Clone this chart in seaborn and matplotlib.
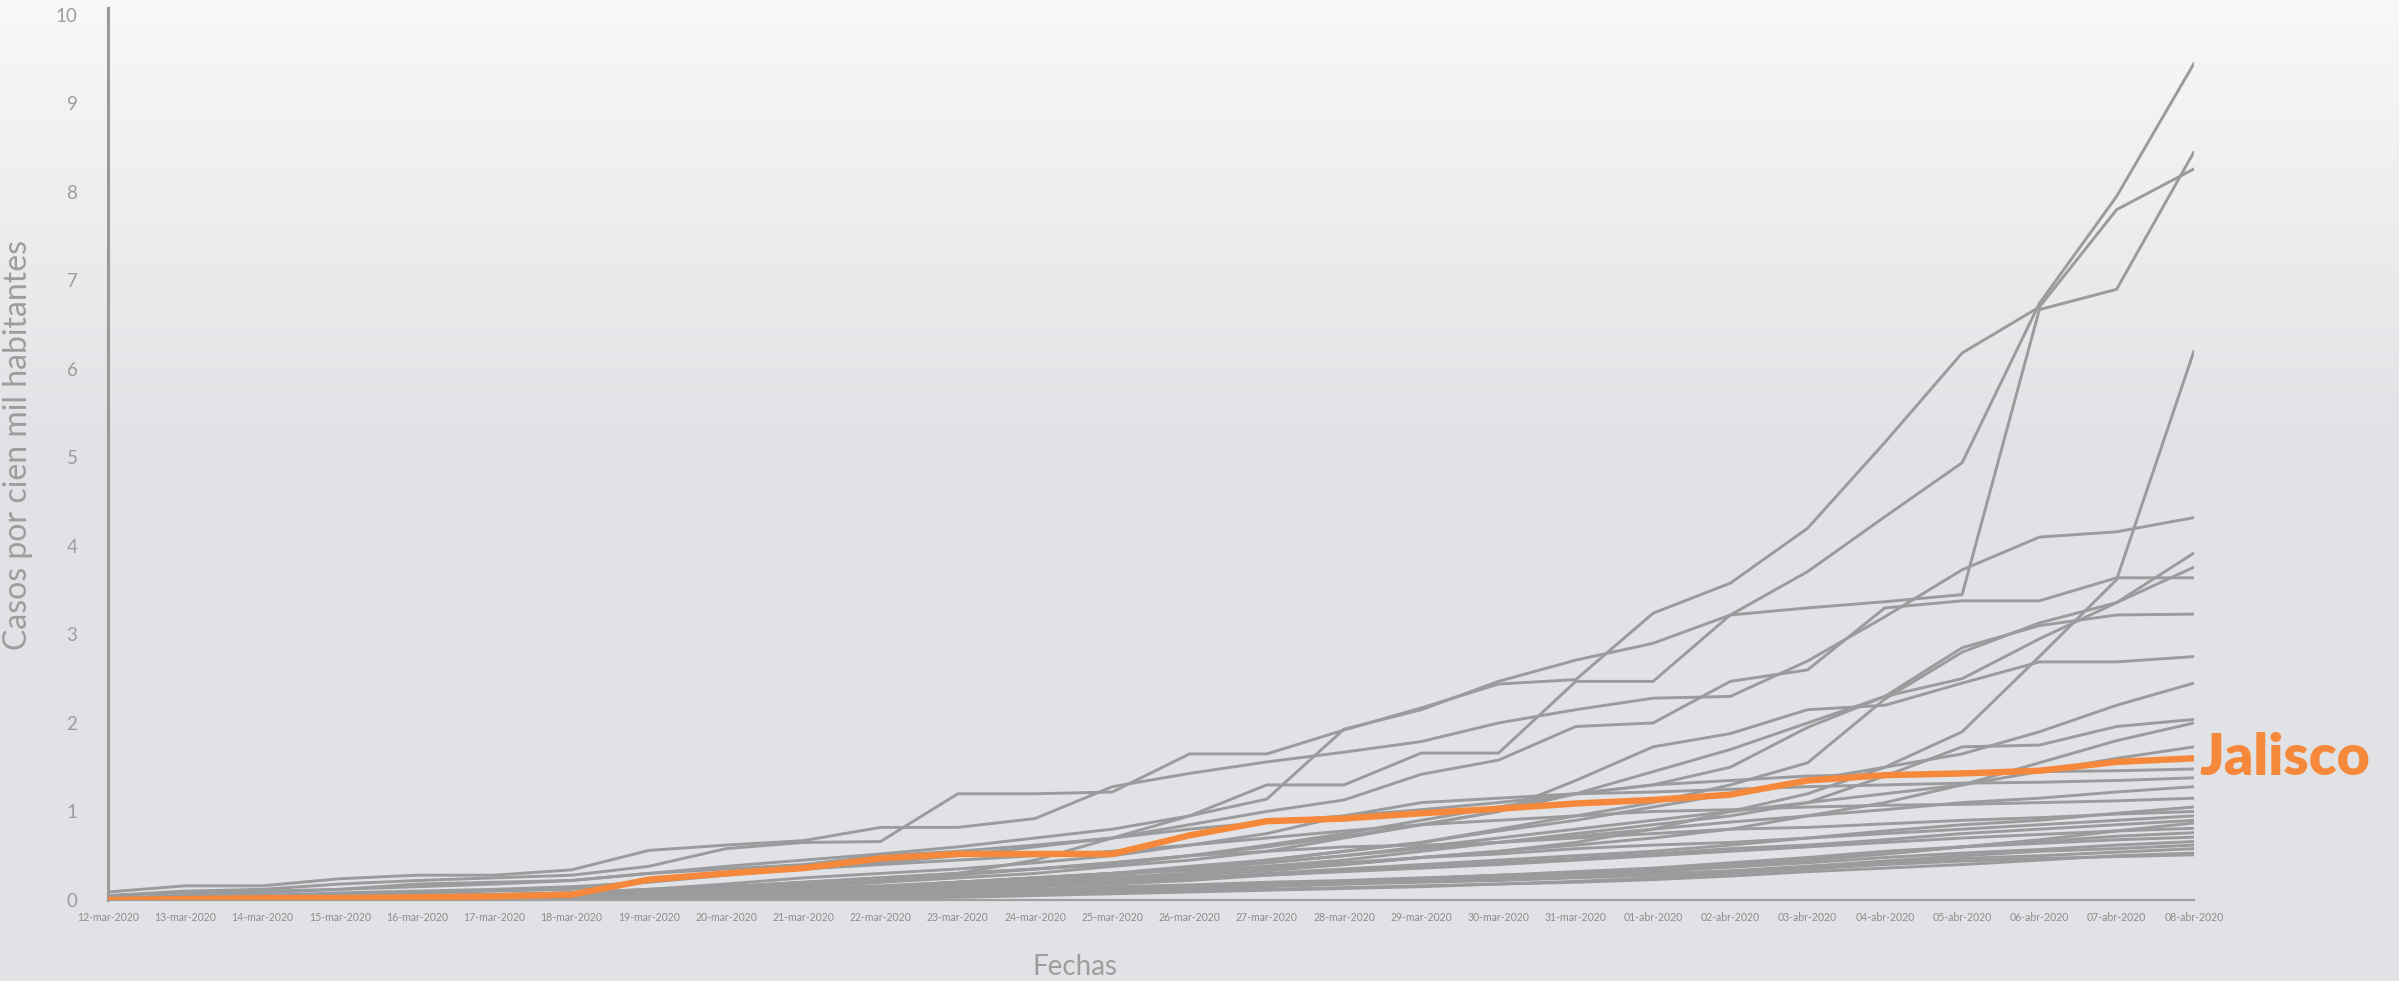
import numpy as np
import pandas as pd
import seaborn as sns
import matplotlib.pyplot as plt
from matplotlib.colors import LinearSegmentedColormap

# -------------------------------
# Data (casos por cien mil habitantes)
# -------------------------------
fechas = [f"{d}-mar-2020" for d in range(12, 32)] + [f"{d:02d}-abr-2020" for d in range(1, 9)]

jalisco = [0.0, 0.01, 0.02, 0.02, 0.03, 0.04, 0.06, 0.23, 0.30, 0.36, 0.47, 0.52, 0.52, 0.52,
           0.73, 0.89, 0.92, 0.98, 1.03, 1.09, 1.13, 1.19, 1.35, 1.41, 1.43, 1.46, 1.56, 1.60]

otros = {
    "e01": [0.05, 0.08, 0.10, 0.12, 0.15, 0.18, 0.22, 0.30, 0.38, 0.45, 0.52, 0.60, 0.70, 0.80,
            0.95, 1.14, 1.93, 2.15, 2.47, 2.71, 2.90, 3.22, 3.71, 4.33, 4.94, 6.74, 7.95, 9.45],
    "e02": [0.05, 0.10, 0.12, 0.18, 0.22, 0.25, 0.28, 0.38, 0.58, 0.65, 0.66, 1.20, 1.20, 1.22,
            1.65, 1.65, 1.92, 2.17, 2.44, 2.49, 3.24, 3.58, 4.20, 5.17, 6.18, 6.70, 7.80, 8.26],
    "e03": [0.0, 0.0, 0.0, 0.0, 0.02, 0.03, 0.05, 0.08, 0.12, 0.15, 0.20, 0.30, 0.45, 0.70,
            0.95, 1.30, 1.30, 1.66, 1.66, 2.47, 2.47, 3.22, 3.30, 3.37, 3.45, 6.67, 6.90, 8.45],
    "e04": [0.09, 0.16, 0.16, 0.24, 0.28, 0.28, 0.34, 0.56, 0.62, 0.67, 0.82, 0.82, 0.92, 1.28,
            1.43, 1.56, 1.67, 1.79, 2.00, 2.15, 2.28, 2.30, 2.70, 3.20, 3.73, 4.10, 4.16, 4.32],
    "e05": [0.0, 0.0, 0.0, 0.02, 0.03, 0.05, 0.06, 0.08, 0.10, 0.12, 0.15, 0.18, 0.20, 0.25,
            0.30, 0.35, 0.40, 0.48, 0.55, 0.65, 0.80, 1.00, 1.20, 1.50, 1.90, 2.75, 3.62, 6.20],
    "e06": [0.0, 0.0, 0.02, 0.03, 0.05, 0.06, 0.08, 0.12, 0.15, 0.20, 0.25, 0.30, 0.35, 0.42,
            0.50, 0.62, 0.75, 0.90, 1.05, 1.20, 1.30, 1.50, 1.95, 2.30, 2.50, 2.95, 3.36, 3.92],
    "e07": [0.0, 0.0, 0.0, 0.02, 0.03, 0.04, 0.05, 0.08, 0.10, 0.12, 0.15, 0.20, 0.25, 0.30,
            0.35, 0.45, 0.55, 0.65, 0.80, 0.95, 1.10, 1.30, 1.55, 2.27, 2.80, 3.13, 3.36, 3.76],
    "e08": [0.02, 0.04, 0.05, 0.08, 0.10, 0.12, 0.15, 0.20, 0.28, 0.35, 0.42, 0.50, 0.60, 0.70,
            0.85, 1.00, 1.13, 1.42, 1.58, 1.96, 2.00, 2.47, 2.60, 3.30, 3.38, 3.38, 3.64, 3.64],
    "e09": [0.0, 0.0, 0.02, 0.03, 0.05, 0.06, 0.08, 0.10, 0.12, 0.15, 0.20, 0.25, 0.30, 0.38,
            0.45, 0.55, 0.70, 0.85, 1.00, 1.20, 1.45, 1.70, 2.00, 2.30, 2.85, 3.10, 3.22, 3.23],
    "e10": [0.0, 0.0, 0.0, 0.02, 0.03, 0.05, 0.07, 0.10, 0.13, 0.17, 0.22, 0.28, 0.35, 0.42,
            0.50, 0.60, 0.72, 0.85, 1.00, 1.35, 1.73, 1.88, 2.15, 2.20, 2.45, 2.69, 2.69, 2.75],
    "e11": [0.0, 0.0, 0.0, 0.0, 0.02, 0.03, 0.05, 0.08, 0.10, 0.12, 0.15, 0.20, 0.25, 0.30,
            0.38, 0.45, 0.55, 0.65, 0.78, 0.90, 1.05, 1.20, 1.35, 1.50, 1.65, 1.90, 2.20, 2.45],
    "e12": [0.0, 0.0, 0.0, 0.02, 0.03, 0.04, 0.05, 0.07, 0.10, 0.12, 0.15, 0.18, 0.22, 0.28,
            0.35, 0.42, 0.50, 0.60, 0.70, 0.80, 0.90, 1.00, 1.10, 1.40, 1.73, 1.75, 1.96, 2.04],
    "e13": [0.0, 0.0, 0.0, 0.0, 0.0, 0.02, 0.03, 0.05, 0.07, 0.09, 0.12, 0.15, 0.18, 0.22,
            0.28, 0.33, 0.40, 0.48, 0.55, 0.62, 0.70, 0.80, 0.95, 1.10, 1.30, 1.55, 1.80, 2.00],
    "e14": [0.0, 0.0, 0.0, 0.0, 0.02, 0.03, 0.04, 0.05, 0.07, 0.10, 0.12, 0.15, 0.20, 0.25,
            0.30, 0.38, 0.45, 0.55, 0.65, 0.75, 0.85, 0.95, 1.10, 1.20, 1.30, 1.45, 1.60, 1.73],
    "e15": [0.02, 0.05, 0.08, 0.12, 0.18, 0.20, 0.22, 0.30, 0.35, 0.40, 0.50, 0.55, 0.62, 0.70,
            0.80, 0.88, 0.95, 1.02, 1.10, 1.20, 1.30, 1.35, 1.40, 1.42, 1.44, 1.45, 1.46, 1.48],
    "e16": [0.0, 0.0, 0.02, 0.03, 0.05, 0.06, 0.08, 0.12, 0.18, 0.25, 0.30, 0.35, 0.42, 0.50,
            0.62, 0.75, 0.95, 1.10, 1.15, 1.20, 1.22, 1.25, 1.28, 1.30, 1.32, 1.33, 1.35, 1.38],
    "e17": [0.0, 0.0, 0.0, 0.02, 0.03, 0.05, 0.06, 0.08, 0.10, 0.13, 0.16, 0.20, 0.24, 0.30,
            0.35, 0.42, 0.50, 0.58, 0.65, 0.72, 0.80, 0.88, 0.95, 1.02, 1.10, 1.15, 1.22, 1.28],
    "e18": [0.02, 0.03, 0.05, 0.06, 0.08, 0.10, 0.12, 0.22, 0.30, 0.35, 0.40, 0.45, 0.50, 0.55,
            0.62, 0.70, 0.78, 0.85, 0.90, 0.95, 1.00, 1.02, 1.05, 1.07, 1.08, 1.10, 1.12, 1.15],
    "e19": [0.0, 0.0, 0.0, 0.0, 0.0, 0.02, 0.03, 0.05, 0.08, 0.10, 0.12, 0.15, 0.18, 0.20,
            0.25, 0.30, 0.35, 0.40, 0.45, 0.50, 0.55, 0.62, 0.70, 0.78, 0.85, 0.90, 0.98, 1.05],
    "e20": [0.0, 0.0, 0.0, 0.0, 0.02, 0.02, 0.03, 0.05, 0.08, 0.10, 0.15, 0.20, 0.25, 0.30,
            0.33, 0.38, 0.42, 0.48, 0.52, 0.58, 0.62, 0.65, 0.70, 0.75, 0.80, 0.85, 0.90, 0.95],
    "e21": [0.0, 0.0, 0.0, 0.0, 0.0, 0.0, 0.02, 0.03, 0.05, 0.07, 0.10, 0.12, 0.15, 0.18,
            0.22, 0.28, 0.33, 0.38, 0.42, 0.47, 0.52, 0.58, 0.62, 0.68, 0.75, 0.80, 0.85, 0.90],
    "e22": [0.0, 0.0, 0.0, 0.0, 0.0, 0.0, 0.0, 0.02, 0.03, 0.04, 0.05, 0.06, 0.08, 0.10,
            0.12, 0.15, 0.18, 0.22, 0.26, 0.30, 0.35, 0.40, 0.45, 0.52, 0.60, 0.68, 0.78, 0.87],
    "e23": [0.0, 0.0, 0.0, 0.0, 0.0, 0.02, 0.03, 0.05, 0.07, 0.09, 0.12, 0.15, 0.18, 0.20,
            0.24, 0.28, 0.32, 0.36, 0.40, 0.45, 0.50, 0.55, 0.60, 0.65, 0.70, 0.74, 0.78, 0.81],
    "e24": [0.0, 0.0, 0.0, 0.0, 0.0, 0.0, 0.0, 0.0, 0.02, 0.03, 0.05, 0.07, 0.10, 0.12,
            0.15, 0.18, 0.20, 0.22, 0.25, 0.28, 0.32, 0.38, 0.45, 0.52, 0.60, 0.66, 0.72, 0.76],
    "e25": [0.0, 0.0, 0.0, 0.0, 0.0, 0.0, 0.02, 0.03, 0.04, 0.05, 0.07, 0.10, 0.12, 0.15,
            0.17, 0.20, 0.22, 0.25, 0.28, 0.32, 0.36, 0.42, 0.48, 0.55, 0.60, 0.64, 0.68, 0.71],
    "e26": [0.0, 0.0, 0.0, 0.0, 0.0, 0.0, 0.0, 0.02, 0.03, 0.05, 0.07, 0.08, 0.10, 0.12,
            0.14, 0.16, 0.18, 0.20, 0.22, 0.25, 0.28, 0.32, 0.38, 0.44, 0.50, 0.55, 0.58, 0.62],
    "e27": [0.0, 0.0, 0.0, 0.0, 0.0, 0.0, 0.0, 0.0, 0.0, 0.02, 0.03, 0.05, 0.06, 0.08,
            0.10, 0.12, 0.14, 0.16, 0.18, 0.20, 0.23, 0.27, 0.32, 0.36, 0.40, 0.45, 0.50, 0.53],
    "e28": [0.0, 0.0, 0.0, 0.0, 0.0, 0.0, 0.0, 0.0, 0.0, 0.0, 0.02, 0.03, 0.05, 0.07,
            0.09, 0.11, 0.13, 0.15, 0.18, 0.21, 0.25, 0.30, 0.35, 0.40, 0.44, 0.47, 0.49, 0.51],
    "e29": [0.0, 0.0, 0.0, 0.0, 0.0, 0.0, 0.0, 0.02, 0.03, 0.04, 0.05, 0.08, 0.10, 0.12,
            0.15, 0.18, 0.20, 0.22, 0.24, 0.26, 0.30, 0.33, 0.38, 0.42, 0.47, 0.50, 0.54, 0.58],
    "e30": [0.0, 0.0, 0.0, 0.0, 0.0, 0.0, 0.0, 0.0, 0.02, 0.03, 0.04, 0.06, 0.08, 0.10,
            0.12, 0.16, 0.20, 0.24, 0.28, 0.30, 0.33, 0.37, 0.42, 0.48, 0.53, 0.57, 0.62, 0.66],
    "e31": [0.0, 0.0, 0.0, 0.0, 0.03, 0.05, 0.07, 0.10, 0.15, 0.20, 0.25, 0.30, 0.35, 0.40,
            0.50, 0.55, 0.60, 0.62, 0.65, 0.70, 0.75, 0.80, 0.82, 0.86, 0.90, 0.93, 0.97, 1.00],
}

GRIS = "#9a9b9d"
NARANJA = "#f5883a"
TEXTO = "#9d9d9d"

# -------------------------------
# Long table for seaborn
# -------------------------------
idx = np.arange(len(fechas))
df = pd.DataFrame(
    [(k, i, v) for k, vals in otros.items() for i, v in zip(idx, vals)],
    columns=["estado", "dia", "casos"],
)
df_jal = pd.DataFrame({"estado": "Jalisco", "dia": idx, "casos": jalisco})

sns.set_style("white")
plt.rcParams["font.family"] = ["Lato", "DejaVu Sans"]

fig = plt.figure(figsize=(23.99, 9.81), dpi=100)

# background gradient
bg = fig.add_axes([0, 0, 1, 1], zorder=-10)
grad = np.concatenate([np.linspace(0, 1, 450), np.ones(531)])[:, None]
cmap = LinearSegmentedColormap.from_list("fondo", ["#f8f8f9", "#e1e2e5"])
bg.imshow(grad, aspect="auto", cmap=cmap, extent=[0, 1, 0, 1])
bg.axis("off")

ax = fig.add_axes([0.045, 0.0826, 0.8695, 0.9094])
ax.set_facecolor("none")

sns.lineplot(data=df, x="dia", y="casos", units="estado", estimator=None,
             color=GRIS, linewidth=2.1, ax=ax, legend=False)
sns.lineplot(data=df_jal, x="dia", y="casos", color=NARANJA, linewidth=4.6,
             ax=ax, legend=False, zorder=5)

ax.annotate("Jalisco", xy=(idx[-1], jalisco[-1]), xytext=(4, 0), textcoords="offset points",
            ha="left", va="center", color=NARANJA, fontsize=41, fontweight="heavy",
            annotation_clip=False)

ax.set_xlim(0, len(fechas) - 1)
ax.set_ylim(0, 10.08)
ax.set_xticks(idx)
ax.set_xticklabels(fechas, fontsize=7.6, color="#8c8c8c")
ax.set_yticks(range(0, 11))
ax.tick_params(axis="y", labelsize=13.5, labelcolor=TEXTO, length=0, pad=22)
ax.tick_params(axis="x", length=0, pad=9)

ax.set_xlabel("")
ax.set_ylabel("Casos por cien mil habitantes", fontsize=23, color=TEXTO)
ax.yaxis.set_label_coords(-0.036, 0.51)
fig.text(0.448, 0.0143, "Fechas", fontsize=20, color=TEXTO, ha="center", va="center")

for s in ["top", "right"]:
    ax.spines[s].set_visible(False)
ax.spines["left"].set_color("#9a9a9a")
ax.spines["left"].set_linewidth(2.2)
ax.spines["bottom"].set_color("#a0a0a0")
ax.spines["bottom"].set_linewidth(1.6)
ax.grid(False)

fig.savefig("out.png", dpi=100)
